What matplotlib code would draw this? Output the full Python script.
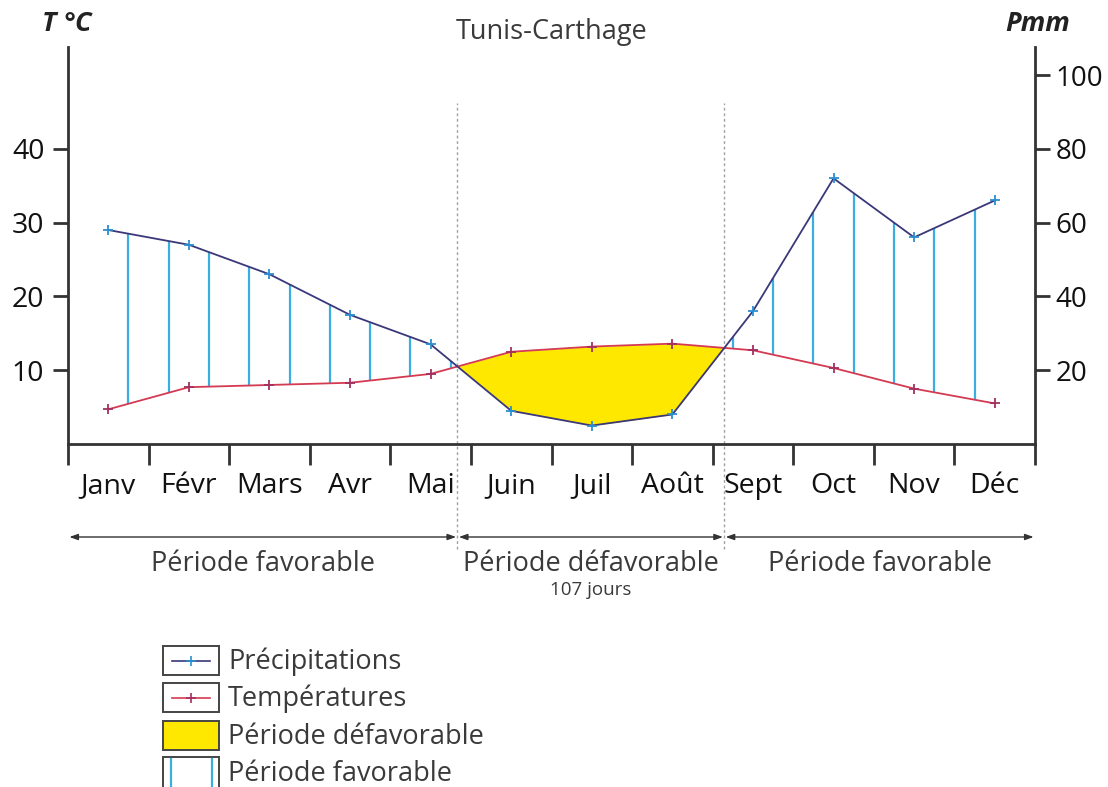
import numpy as np
import matplotlib
matplotlib.use("Agg")
import matplotlib.pyplot as plt
from matplotlib.patches import Rectangle
from matplotlib.lines import Line2D

# ---------------- data ----------------
months = ["Janv", "Févr", "Mars", "Avr", "Mai", "Juin", "Juil", "Août",
          "Sept", "Oct", "Nov", "Déc"]
temperature = [4.7, 7.7, 8.0, 8.3, 9.5, 12.5, 13.2, 13.6, 12.7, 10.3, 7.5, 5.5]
precipitation = [58, 54, 46, 35, 27, 9, 5, 8, 36, 72, 56, 66]
t_ticks = [10, 20, 30, 40]
p_ticks = [20, 40, 60, 80, 100]
title = "Tunis-Carthage"
period_labels = ["Période favorable", "Période défavorable", "Période favorable"]
dry_days = "107 jours"
legend_labels = ["Précipitations", "Températures", "Période défavorable", "Période favorable"]

# ---------------- style ----------------
plt.rcParams['font.family'] = ['Open Sans', 'DejaVu Sans']
W, H = 1108, 787
fig = plt.figure(figsize=(W / 100, H / 100), dpi=100)
fig.patch.set_facecolor('white')

C_PREC = '#3a3878'
C_PREC_M = '#2a8fd2'
C_TEMP = '#d43a52'
C_TEMP_M = '#a23060'
C_HATCH = '#3aaee0'
C_YEL = '#ffe800'
C_TXT = '#3a3a3a'
C_AX = '#333333'

left, right = 68 / W, 1035 / W
bottom, top = 1 - 444 / H, 1 - 47 / H
ax = fig.add_axes([left, bottom, right - left, top - bottom])
ax2 = ax.twinx()

T = np.array(temperature, dtype=float)
P = np.array(precipitation, dtype=float)
x = np.arange(len(months)) + 0.5
Pt = P / 2.0  # Gaussen convention P = 2T

ymax = 53.8
ax.set_xlim(0, 12)
ax.set_ylim(0, ymax)
ax2.set_ylim(0, 2 * ymax)

# dry period fill
xf = np.linspace(0, 12, 2401)
Tf = np.interp(xf, x, T)
Pf = np.interp(xf, x, Pt)
ax.fill_between(xf, Pf, Tf, where=Pf <= Tf, color=C_YEL, linewidth=0, interpolate=True, zorder=1)

# favourable hatching
hx = np.arange(0.75, 11.5, 0.5)
hT = np.interp(hx, x, T)
hP = np.interp(hx, x, Pt)
mask = hP > hT
ax.vlines(hx[mask], hT[mask], hP[mask], color=C_HATCH, lw=1.6, zorder=2)

# crossing points
d = Pt - T
cross = []
for i in range(len(d) - 1):
    if d[i] * d[i + 1] < 0:
        cross.append(x[i] + d[i] / (d[i] - d[i + 1]))

# curves
ax.plot(x, T, color=C_TEMP, lw=1.3, zorder=3)
ax.plot(x, T, ls='none', marker='+', ms=7, mew=1.3, color=C_TEMP_M, zorder=4)
ax2.plot(x, P, color=C_PREC, lw=1.3, zorder=3)
ax2.plot(x, P, ls='none', marker='+', ms=7, mew=1.3, color=C_PREC_M, zorder=4)

# dashed separators
xt = ax.get_xaxis_transform()
for c in cross:
    ax.plot([c, c], [-0.265, 0.86], transform=xt, color='#a0a0a0', lw=1.0,
            ls=(0, (2, 2)), clip_on=False, zorder=0)

# axes styling
for a in (ax, ax2):
    a.spines['top'].set_visible(False)
    for s in ('left', 'right', 'bottom'):
        a.spines[s].set_linewidth(2.0)
        a.spines[s].set_color(C_AX)
ax.spines['right'].set_visible(False)
ax2.spines['left'].set_visible(False)
ax2.spines['bottom'].set_visible(False)

ax.set_yticks(t_ticks)
ax.set_yticklabels([str(v) for v in t_ticks])
ax.tick_params(axis='y', direction='out', length=11, width=2, color=C_AX,
               labelsize=20.5, pad=6, labelcolor='#111111')
ax2.set_yticks(p_ticks)
ax2.set_yticklabels([str(v) for v in p_ticks])
ax2.tick_params(axis='y', direction='out', length=11, width=2, color=C_AX,
                labelsize=20, pad=4, labelcolor='#111111')

ax.set_xticks(np.arange(0, 13))
ax.set_xticklabels([])
ax.tick_params(axis='x', which='major', direction='out', length=15, width=2, color=C_AX)
ax.set_xticks(x, minor=True)
ax.set_xticklabels(months, minor=True)
ax.tick_params(axis='x', which='minor', length=0, labelsize=20.5, pad=20, labelcolor='#111111')

# titles
fig.text(552 / W, 1 - 32 / H, title, ha='center', va='center', fontsize=19.5, color=C_TXT)
fig.text(67 / W, 1 - 24 / H, "T °C", ha='center', va='center', fontsize=19.5,
         fontweight='bold', fontstyle='italic', color='#222222')
fig.text(1038 / W, 1 - 24 / H, "Pmm", ha='center', va='center', fontsize=19.5,
         fontweight='bold', fontstyle='italic', color='#222222')

# period arrows and labels
bounds = [0] + cross + [12]
ya = 1 - 537 / H
yl = 1 - 564 / H
for i in range(3):
    ax.annotate('', xy=(bounds[i + 1], ya), xytext=(bounds[i], ya),
                xycoords=('data', 'figure fraction'), textcoords=('data', 'figure fraction'),
                arrowprops=dict(arrowstyle='<|-|>,head_length=0.5,head_width=0.18',
                                color='#333333', lw=1.0, shrinkA=1, shrinkB=1))
    ax.annotate(period_labels[i], xy=((bounds[i] + bounds[i + 1]) / 2, yl),
                xycoords=('data', 'figure fraction'), ha='center', va='center',
                fontsize=19.5, color=C_TXT, annotation_clip=False)
ax.annotate(dry_days, xy=((bounds[1] + bounds[2]) / 2, 1 - 590 / H),
            xycoords=('data', 'figure fraction'), ha='center', va='center',
            fontsize=13.5, color=C_TXT, annotation_clip=False)

# manual legend (pixel overlay)
lg = fig.add_axes([0, 0, 1, 1], frameon=False)
lg.set_xlim(0, W)
lg.set_ylim(H, 0)
lg.set_axis_off()
bx, bw = 163, 56
rows = [(646, 675), (683, 712), (721, 750), (757, 800)]
for k, (y0, y1) in enumerate(rows):
    fc = C_YEL if k == 2 else 'white'
    lg.add_patch(Rectangle((bx, y0), bw, y1 - y0, facecolor=fc, edgecolor='#444444',
                           lw=1.4, clip_on=False))
    yc = (y0 + y1) / 2
    if k in (0, 1):
        col = C_PREC if k == 0 else C_TEMP
        mcol = C_PREC_M if k == 0 else C_TEMP_M
        lg.add_line(Line2D([bx + 9, bx + 47], [yc, yc], color=col, lw=1.2))
        lg.add_line(Line2D([bx + 28], [yc], marker='+', ms=7, mew=1.2, color=mcol))
    if k == 3:
        for hxp in (bx + 8, bx + 49):
            lg.add_line(Line2D([hxp, hxp], [y0 + 2, H + 5], color=C_HATCH, lw=1.6))
    lg.text(228, yc + 1 if k < 3 else 774, legend_labels[k], ha='left', va='center',
            fontsize=19.5, color=C_TXT)

fig.savefig('out.png', dpi=100)
